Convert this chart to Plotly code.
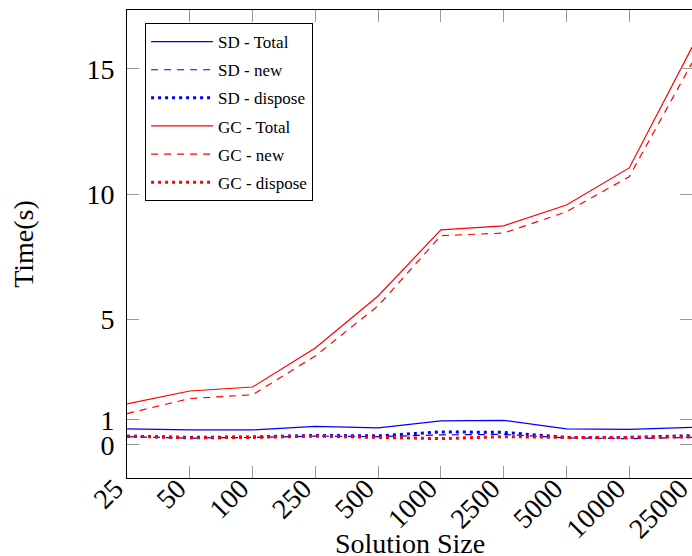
import plotly.graph_objects as go

sizes = ["25", "50", "100", "250", "500", "1000", "2500", "5000", "10000", "25000"]

sd_total = [0.64, 0.60, 0.60, 0.74, 0.68, 0.96, 0.98, 0.64, 0.62, 0.70]
sd_new = [0.33, 0.27, 0.30, 0.35, 0.33, 0.40, 0.42, 0.28, 0.25, 0.30]
sd_dispose = [0.35, 0.30, 0.32, 0.38, 0.36, 0.52, 0.50, 0.30, 0.30, 0.37]
gc_total = [1.64, 2.15, 2.31, 3.87, 5.94, 8.58, 8.74, 9.57, 11.05, 15.86]
gc_new = [1.25, 1.85, 2.00, 3.55, 5.55, 8.35, 8.45, 9.30, 10.70, 15.24]
gc_dispose = [0.35, 0.28, 0.30, 0.35, 0.30, 0.25, 0.33, 0.30, 0.30, 0.32]

y_ticks = [0, 1, 5, 10, 15]

BLUE = "#0000ff"
RED = "#ff0000"
FONT = "Liberation Serif"

series = [
    ("SD - Total", sd_total, BLUE, "solid", 1.2),
    ("SD - new", sd_new, BLUE, "7px,6px", 1.2),
    ("SD - dispose", sd_dispose, BLUE, "3px,4px", 3),
    ("GC - Total", gc_total, RED, "solid", 1.2),
    ("GC - new", gc_new, RED, "7px,6px", 1.2),
    ("GC - dispose", gc_dispose, RED, "3px,4px", 3),
]

fig = go.Figure()
for i, (name, vals, color, dash, width) in enumerate(series):
    fig.add_trace(go.Scatter(
        x=sizes, y=vals, mode="lines", name=name, legendgroup=f"g{i}",
        line=dict(color=color, dash=dash, width=width),
    ))

axis_common = dict(
    showline=True, linecolor="black", linewidth=1, mirror="allticks",
    ticks="inside", ticklen=12, tickcolor="#9a9a9a", tickwidth=1,
    showgrid=False, zeroline=False, automargin=False,
    tickfont=dict(family=FONT, size=28, color="black"),
)

fig.update_xaxes(
    type="category", range=[0, 9], tickangle=-45,
    ticklabelstandoff=-18, ticklabelshift=-12,
    **axis_common,
)
fig.update_yaxes(
    range=[-1.32, 17.35], tickvals=y_ticks, ticktext=[str(v) for v in y_ticks],
    ticklabelstandoff=6,
    title=dict(text="Time(s)", font=dict(family=FONT, size=28, color="black"), standoff=44),
    **axis_common,
)

fig.add_annotation(
    text="Solution Size", xref="paper", yref="paper", x=0.5, y=0.0,
    yshift=-48, xanchor="center", yanchor="top", showarrow=False,
    font=dict(family=FONT, size=28, color="black"),
)

fig.update_layout(
    width=692, height=556,
    margin=dict(l=127, r=0, t=10, b=78),
    paper_bgcolor="white", plot_bgcolor="white",
    showlegend=True,
    legend=dict(
        x=0.032, y=0.972, xanchor="left", yanchor="top",
        bgcolor="white", bordercolor="black", borderwidth=1,
        font=dict(family=FONT, size=17, color="black"),
        itemwidth=62, tracegroupgap=3, traceorder="grouped",
    ),
)

fig.write_html(
    "out.html",
    config={"displayModeBar": False},
    post_script="document.body.style.margin='0';document.body.style.overflow='hidden';",
)
